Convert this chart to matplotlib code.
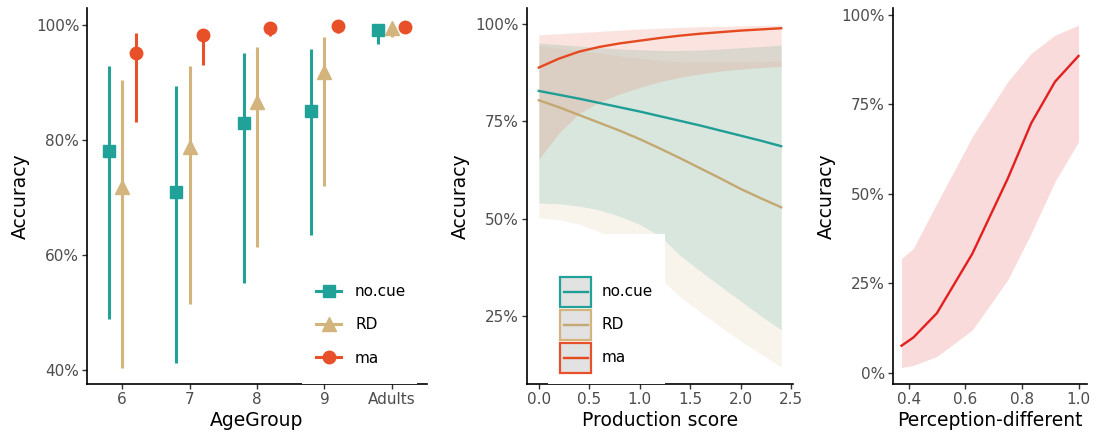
import matplotlib
matplotlib.use("Agg")
import matplotlib.pyplot as plt
from matplotlib.patches import Rectangle
from matplotlib.lines import Line2D
from matplotlib.legend_handler import HandlerBase
from matplotlib.ticker import PercentFormatter, FormatStrFormatter

plt.rcParams['font.family'] = ['DejaVu Sans']

# ---------------- data ----------------
age_groups = ['6', '7', '8', '9', 'Adults']
cue_names = ['no.cue', 'RD', 'ma']

nocue_mean = [0.781, 0.710, 0.830, 0.850, 0.992]
nocue_lo = [0.489, 0.413, 0.552, 0.636, 0.967]
nocue_hi = [0.929, 0.895, 0.951, 0.959, 0.997]

rd_mean = [0.719, 0.788, 0.867, 0.918, 0.996]
rd_lo = [0.404, 0.515, 0.614, 0.720, 0.979]
rd_hi = [0.904, 0.929, 0.962, 0.979, 0.998]

ma_mean = [0.951, 0.983, 0.996, 0.999, 0.997]
ma_lo = [0.831, 0.930, 0.981, 0.987, 0.995]
ma_hi = [0.987, 0.994, 0.999, 1.000, 0.999]

prod_score = [0.0, 0.2, 0.4, 0.6, 0.8, 1.0, 1.2, 1.4, 1.6, 1.8, 2.0, 2.2, 2.4]
prod_nocue = [0.828, 0.818, 0.808, 0.797, 0.786, 0.775, 0.763, 0.751, 0.739,
              0.726, 0.713, 0.700, 0.686]
prod_nocue_lo = [0.540, 0.538, 0.532, 0.522, 0.506, 0.485, 0.455, 0.405, 0.365,
                 0.326, 0.288, 0.250, 0.214]
prod_nocue_hi = [0.951, 0.947, 0.943, 0.939, 0.936, 0.934, 0.932, 0.932, 0.933,
                 0.936, 0.939, 0.942, 0.946]
prod_rd = [0.804, 0.786, 0.766, 0.746, 0.726, 0.704, 0.680, 0.655, 0.629,
           0.603, 0.576, 0.552, 0.529]
prod_rd_lo = [0.502, 0.497, 0.486, 0.466, 0.436, 0.395, 0.347, 0.299, 0.260,
              0.222, 0.186, 0.152, 0.119]
prod_rd_hi = [0.944, 0.938, 0.932, 0.925, 0.918, 0.912, 0.906, 0.903, 0.902,
              0.902, 0.902, 0.903, 0.905]
prod_ma = [0.888, 0.911, 0.929, 0.941, 0.950, 0.957, 0.964, 0.970, 0.975,
           0.979, 0.983, 0.986, 0.989]
prod_ma_lo = [0.652, 0.720, 0.770, 0.799, 0.820, 0.837, 0.852, 0.863, 0.872,
              0.879, 0.884, 0.888, 0.891]
prod_ma_hi = [0.972, 0.975, 0.978, 0.981, 0.984, 0.987, 0.989, 0.991, 0.993,
              0.994, 0.995, 0.996, 0.997]

perc_diff = [0.375, 0.417, 0.5, 0.625, 0.75, 0.833, 0.917, 1.0]
perc_acc = [0.075, 0.098, 0.166, 0.332, 0.542, 0.697, 0.813, 0.885]
perc_lo = [0.014, 0.020, 0.045, 0.119, 0.259, 0.389, 0.534, 0.645]
perc_hi = [0.319, 0.347, 0.473, 0.659, 0.813, 0.892, 0.943, 0.971]

# ---------------- style ----------------
col = {'no.cue': '#20A298', 'RD': '#D3B47C', 'ma': '#E8502A'}
fill_alpha = {'no.cue': 0.17, 'RD': 0.14, 'ma': 0.15}
line_col2 = {'no.cue': '#1E9E95', 'RD': '#C4A871', 'ma': '#E5491F'}
red = '#E31F1F'
tick_col = '#4D4D4D'
W, H = 1102, 438
fig = plt.figure(figsize=(W / 100, H / 100), dpi=100)


class RibbonKeyHandler(HandlerBase):
    """Legend key: grey box outlined in the series colour with a centred line."""

    def __init__(self, box_color, line_color):
        super().__init__()
        self.box_color = box_color
        self.line_color = line_color

    def create_artists(self, legend, orig_handle, xdescent, ydescent,
                       width, height, fontsize, trans):
        x0, y0 = -xdescent, -ydescent
        box = Rectangle((x0, y0), width, height, facecolor='#E2E2E2',
                        edgecolor=self.box_color, lw=1.6, transform=trans)
        ym = y0 + height / 2
        line = Line2D([x0 + 0.12 * width, x0 + 0.88 * width], [ym, ym],
                      color=self.line_color, lw=1.7, transform=trans)
        return [box, line]


def px_axes(left, top, right, bottom):
    return fig.add_axes([left / W, (H - bottom) / H, (right - left) / W, (bottom - top) / H])


def classic(ax):
    for s in ['top', 'right']:
        ax.spines[s].set_visible(False)
    for s in ['left', 'bottom']:
        ax.spines[s].set_linewidth(1.2)
        ax.spines[s].set_color('black')
    ax.tick_params(axis='both', length=3.5, width=1.0, color='#333333',
                   labelcolor=tick_col, labelsize=11, pad=2)
    ax.yaxis.set_major_formatter(PercentFormatter(1.0, decimals=0))
    ax.set_ylabel('Accuracy', fontsize=13.5, labelpad=4)


# ---------------- panel 1: accuracy by age group ----------------
ax1 = px_axes(87, 8, 427, 384)
classic(ax1)
xpos = list(range(1, len(age_groups) + 1))
series = [
    ('no.cue', nocue_mean, nocue_lo, nocue_hi, -0.2, 's', 8),
    ('RD', rd_mean, rd_lo, rd_hi, 0.0, '^', 9.5),
    ('ma', ma_mean, ma_lo, ma_hi, 0.2, 'o', 9),
]
handles1 = []
for name, m, lo, hi, off, mk, ms in series:
    xs = [x + off for x in xpos]
    ax1.vlines(xs, lo, hi, color=col[name], lw=2.2, zorder=3)
    ax1.plot(xs, m, linestyle='none', marker=mk, ms=ms, color=col[name], zorder=4)
    handles1.append(Line2D([], [], color=col[name], lw=2.2, marker=mk, ms=ms))
ax1.set_xticks(xpos)
ax1.set_xticklabels(age_groups)
ax1.set_xlim(0.48, 5.52)
ax1.set_ylim(0.376, 1.03)
ax1.set_yticks([0.4, 0.6, 0.8, 1.0])
ax1.set_xlabel('AgeGroup', fontsize=13.5, labelpad=3)
ax1.add_patch(Rectangle((0.632, 0.0), 0.339, 0.35, transform=ax1.transAxes,
                        facecolor='white', edgecolor='none', zorder=3.5, clip_on=False))
leg1 = ax1.legend(handles1, cue_names, loc='center left', bbox_to_anchor=(0.674, 0.157),
                  frameon=False, fontsize=11, handlelength=1.65, handletextpad=0.9,
                  labelspacing=1.2, borderpad=0, borderaxespad=0)
leg1.set_zorder(5)

# ---------------- panel 2: accuracy by production score ----------------
ax2 = px_axes(526.7, 8, 793.3, 384)
classic(ax2)
ribbons = [
    ('no.cue', prod_nocue, prod_nocue_lo, prod_nocue_hi),
    ('RD', prod_rd, prod_rd_lo, prod_rd_hi),
    ('ma', prod_ma, prod_ma_lo, prod_ma_hi),
]
for name, m, lo, hi in ribbons:
    ax2.fill_between(prod_score, lo, hi, color=col[name], alpha=fill_alpha[name],
                     lw=0, zorder=1)
for name, m, lo, hi in ribbons:
    ax2.plot(prod_score, m, color=line_col2[name], lw=1.7, zorder=2)
ax2.set_xlim(-0.12, 2.52)
ax2.set_ylim(0.075, 1.041)
ax2.set_xticks([0.0, 0.5, 1.0, 1.5, 2.0, 2.5])
ax2.xaxis.set_major_formatter(FormatStrFormatter('%.1f'))
ax2.set_yticks([0.25, 0.5, 0.75, 1.0])
ax2.set_xlabel('Production score', fontsize=13.5, labelpad=3)
ax2.add_patch(Rectangle((0.080, 0.0), 0.439, 0.399, transform=ax2.transAxes,
                        facecolor='white', edgecolor='none', zorder=3.5, clip_on=False))
handles2 = [Line2D([], [], color=line_col2[n]) for n in cue_names]
hmap = {h: RibbonKeyHandler(col[n], line_col2[n]) for h, n in zip(handles2, cue_names)}
leg2 = ax2.legend(handles2, cue_names, loc='center left', bbox_to_anchor=(0.125, 0.158),
                  handler_map=hmap,
                  frameon=False, fontsize=11, handlelength=2.05, handleheight=2.64,
                  handletextpad=0.65, labelspacing=0.2, borderpad=0, borderaxespad=0)
leg2.set_zorder(5)

# ---------------- panel 3: accuracy by perception ----------------
ax3 = px_axes(892.7, 8, 1087.3, 384)
classic(ax3)
ax3.fill_between(perc_diff, perc_lo, perc_hi, color=red, alpha=0.16, lw=0, zorder=1)
ax3.plot(perc_diff, perc_acc, color=red, lw=1.7, zorder=2)
ax3.set_xlim(0.344, 1.031)
ax3.set_ylim(-0.032, 1.019)
ax3.set_xticks([0.4, 0.6, 0.8, 1.0])
ax3.xaxis.set_major_formatter(FormatStrFormatter('%.1f'))
ax3.set_yticks([0.0, 0.25, 0.5, 0.75, 1.0])
ax3.set_xlabel('Perception-different', fontsize=13.5, labelpad=3)

fig.savefig('out.png', dpi=100)
